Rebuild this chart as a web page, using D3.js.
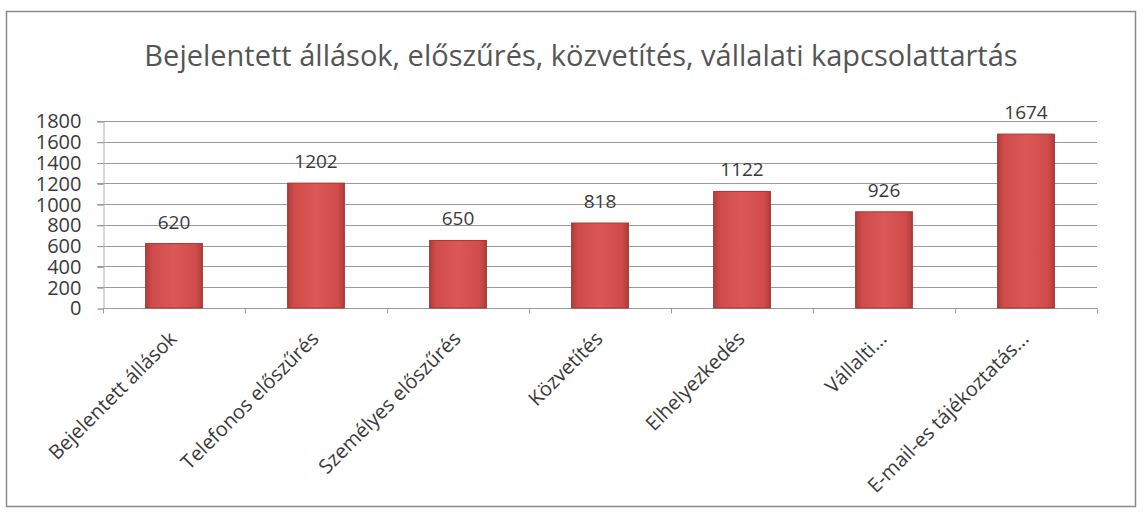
<!DOCTYPE html>
<html>
<head>
<meta charset="utf-8">
<title>Bejelentett állások, előszűrés, közvetítés, vállalati kapcsolattartás</title>
<style>
  body { margin: 0; background: #fff; }
  text { font-family: 'Open Sans', sans-serif; fill: #3a3a3a; }
</style>
</head>
<body>
<div id="chart"></div>
<script src="https://cdn.jsdelivr.net/npm/d3@7/dist/d3.min.js"></script>
<script>
  (function(d3) {
    'use strict';
    var title = 'Bejelentett állások, előszűrés, közvetítés, vállalati kapcsolattartás';
    var categories = ['Bejelentett állások', 'Telefonos előszűrés', 'Személyes előszűrés',
      'Közvetítés', 'Elhelyezkedés', 'Vállalti...', 'E-mail-es tájékoztatás...'];
    var values = [620, 1202, 650, 818, 1122, 926, 1674];
    var yTicks = [0, 200, 400, 600, 800, 1000, 1200, 1400, 1600, 1800];

    var width = 1143;
    var height = 512;
    var margin = { left: 103, right: 46, top: 121, bottom: 204 };

    var svg = d3.select('#chart')
      .append('svg')
      .attr('width', width)
      .attr('height', height);

    // bar gradient, darker at the edges
    var grad = svg.append('defs').append('linearGradient')
      .attr('id', 'barGrad')
      .attr('x1', '0%').attr('x2', '100%').attr('y1', '0%').attr('y2', '0%');
    [['0%', '#b03c3a'], ['12%', '#d04c4a'], ['50%', '#dc5856'], ['88%', '#d04c4a'], ['100%', '#b03c3a']]
      .forEach(function(s) {
        grad.append('stop').attr('offset', s[0]).attr('stop-color', s[1]);
      });

    // outer frame
    svg.append('rect')
      .attr('x', 6.5).attr('y', 11.5)
      .attr('width', 1129).attr('height', 495)
      .attr('fill', 'none')
      .attr('stroke', '#8a8a8a')
      .attr('stroke-width', 1.5);

    svg.append('text')
      .attr('x', 581)
      .attr('y', 66)
      .attr('text-anchor', 'middle')
      .style('font-size', '29px')
      .style('fill', '#555')
      .text(title);

    var x = d3.scaleBand()
      .domain(categories)
      .range([margin.left, width - margin.right])
      .paddingInner(0.6)
      .paddingOuter(0.3);

    var y = d3.scaleLinear()
      .domain([0, 1800])
      .range([height - margin.bottom, margin.top]);

    // gridlines
    svg.append('g')
      .selectAll('line')
      .data(yTicks.slice(1))
      .enter()
      .append('line')
      .attr('x1', margin.left - 6)
      .attr('x2', width - margin.right)
      .attr('y1', function(d) { return Math.round(y(d)) + 0.5; })
      .attr('y2', function(d) { return Math.round(y(d)) + 0.5; })
      .attr('stroke', '#9a9a9a');

    // y axis
    var yAxis = svg.append('g')
      .attr('transform', 'translate(' + (margin.left + 0.5) + ',0.5)')
      .call(d3.axisLeft(y).tickValues(yTicks).tickFormat(d3.format('d'))
        .tickSize(6).tickPadding(16));
    yAxis.select('.domain').attr('stroke', '#b0b0b0');
    yAxis.selectAll('.tick line').attr('stroke', '#9a9a9a');
    yAxis.selectAll('.tick text')
      .style('font-size', '20px')
      .style('font-family', "'Open Sans', sans-serif")
      .attr('fill', '#3a3a3a');

    // x axis line with boundary ticks
    var y0 = Math.round(y(0)) + 0.5;
    svg.append('line')
      .attr('x1', margin.left).attr('x2', width - margin.right)
      .attr('y1', y0).attr('y2', y0)
      .attr('stroke', '#9a9a9a');
    var step = x.step();
    svg.append('g')
      .selectAll('line')
      .data(d3.range(categories.length + 1))
      .enter()
      .append('line')
      .attr('x1', function(i) { return Math.round(margin.left + i * step) + 0.5; })
      .attr('x2', function(i) { return Math.round(margin.left + i * step) + 0.5; })
      .attr('y1', y0)
      .attr('y2', y0 + 5)
      .attr('stroke', '#9a9a9a');

    // bars
    svg.append('g')
      .selectAll('rect')
      .data(values)
      .enter()
      .append('rect')
      .attr('x', function(d, i) { return x(categories[i]); })
      .attr('y', function(d) { return y(d); })
      .attr('width', x.bandwidth())
      .attr('height', function(d) { return y(0) - y(d); })
      .attr('fill', 'url(#barGrad)')
      .attr('stroke', '#a63836')
      .attr('stroke-width', 1);

    // value labels
    svg.append('g')
      .selectAll('text')
      .data(values)
      .enter()
      .append('text')
      .attr('x', function(d, i) { return x(categories[i]) + x.bandwidth() / 2; })
      .attr('y', function(d) { return y(d) - 15; })
      .attr('text-anchor', 'middle')
      .style('font-size', '19px')
      .text(function(d) { return d; });

    // rotated category labels
    svg.append('g')
      .selectAll('text')
      .data(categories)
      .enter()
      .append('text')
      .attr('text-anchor', 'end')
      .attr('transform', function(d) {
        var cx = x(d) + x.bandwidth() / 2 + 4;
        return 'translate(' + cx + ',' + (y(0) + 32) + ') rotate(-45)';
      })
      .style('font-size', '20px')
      .text(function(d) { return d; });
  })(window.d3);
</script>
</body>
</html>
